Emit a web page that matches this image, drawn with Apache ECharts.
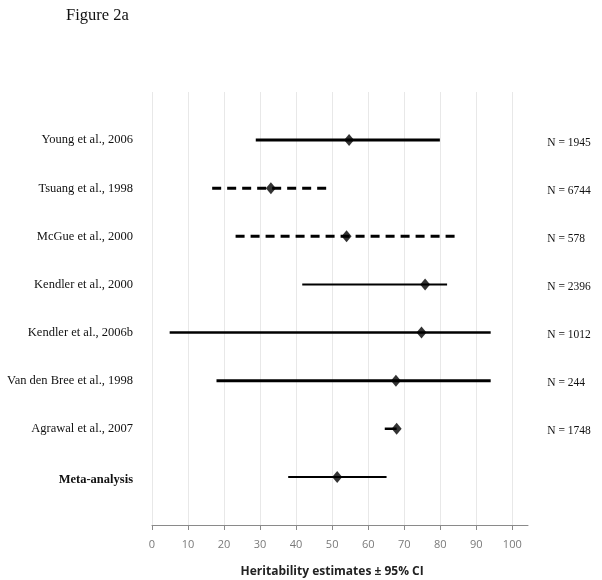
<!DOCTYPE html>
<html>
<head>
<meta charset="utf-8">
<script src="https://cdn.jsdelivr.net/npm/echarts@6/dist/echarts.min.js"></script>
<style>
html,body{margin:0;padding:0;background:#fff;}
#chart{width:602px;height:580px;}
</style>
</head>
<body>
<div id="chart"></div>
<script>
// ---- data ----
var studies = ['Young et al., 2006','Tsuang et al., 1998','McGue et al., 2000','Kendler et al., 2000','Kendler et al., 2006b','Van den Bree et al., 1998','Agrawal et al., 2007','Meta-analysis'];
var estimates = [54.7, 33.0, 54.0, 75.8, 74.8, 67.7, 67.9, 51.4];
var lowerCI   = [28.8, 16.7, 23.2, 41.7, 4.9, 17.9, 64.6, 37.8];
var upperCI   = [79.9, 49.4, 84.4, 81.9, 94.0, 94.0, 67.9, 65.1];
var sampleN   = ['N = 1945','N = 6744','N = 578','N = 2396','N = 1012','N = 244','N = 1748',''];
var xTicks    = [0,10,20,30,40,50,60,70,80,90,100];

// ---- styles (not data) ----
var lineWidths = [3, 3, 3, 2, 2.5, 3, 2.5, 2];
var dashed     = [false, true, true, false, false, false, false, false];

var nRows = studies.length;
function rowY(i){ return nRows - i; } // top study at highest y

var ciData = studies.map(function(s,i){ return [lowerCI[i], upperCI[i], rowY(i), i]; });
var ptData = studies.map(function(s,i){ return [estimates[i], rowY(i)]; });

var labelByY = {};
var nByY = {};
studies.forEach(function(s,i){ labelByY[rowY(i)] = s; nByY[rowY(i)] = sampleN[i]; });

var chart = echarts.init(document.getElementById('chart'), null, {renderer:'canvas'});
var gridTop = 92, gridBottom = 55, gridLeft = 152;

chart.setOption({
  animation: false,
  backgroundColor: '#ffffff',
  title: {
    text: 'Figure 2a', left: 61, top: 2,
    textStyle: {fontFamily: 'Liberation Serif', fontSize: 16.5, fontWeight: 'normal', color: '#111'}
  },
  grid: [
    {left: gridLeft, right: 602 - 512.3, top: gridTop, bottom: gridBottom, containLabel: false, outerBoundsMode: 'none'},
    {left: gridLeft, right: 602 - 528, top: gridTop, bottom: gridBottom, containLabel: false, outerBoundsMode: 'none'}
  ],
  xAxis: [
    {
      gridIndex: 0, type: 'value', min: xTicks[0], max: xTicks[xTicks.length-1], interval: 10,
      axisLine: {show: false},
      axisTick: {show: true, length: 5, lineStyle: {color: '#8a8a8a'}},
      splitLine: {show: true, lineStyle: {color: '#e8e8e8', width: 1}},
      axisLabel: {margin: 14, color: '#7a7a7a', fontFamily: 'Open Sans', fontSize: 11},
      name: 'Heritability estimates \u00b1 95% CI', nameLocation: 'middle', nameGap: 41,
      nameTextStyle: {fontFamily: 'Open Sans', fontSize: 12, fontWeight: 'bold', color: '#222'}
    },
    {
      gridIndex: 1, type: 'value', min: 0, max: 1,
      axisLine: {show: true, lineStyle: {color: '#8a8a8a', width: 1}},
      axisTick: {show: false}, axisLabel: {show: false}, splitLine: {show: false}
    }
  ],
  yAxis: [
    {
      gridIndex: 0, type: 'value', min: 0, max: nRows + 1, interval: 1,
      axisLine: {show: false}, axisTick: {show: false}, splitLine: {show: false},
      axisLabel: {
        margin: 19, color: '#111', fontFamily: 'Liberation Serif', fontSize: 12.5,
        formatter: function(v){
          var s = labelByY[v] || '';
          if (s === 'Meta-analysis') return '{b|' + s + '}';
          return s;
        },
        rich: {b: {fontWeight: 'bold', fontFamily: 'Liberation Serif', fontSize: 12.5, color: '#111', padding: [5,0,0,0]}}
      }
    },
    {
      gridIndex: 0, type: 'value', min: 0, max: nRows + 1, interval: 1, position: 'right',
      axisLine: {show: false}, axisTick: {show: false}, splitLine: {show: false},
      axisLabel: {
        margin: 35, color: '#111', fontFamily: 'Liberation Serif', fontSize: 11.5,
        formatter: function(v){ return nByY[v] ? '{n|' + nByY[v] + '}' : ''; },
        rich: {n: {fontFamily: 'Liberation Serif', fontSize: 11.5, color: '#111', padding: [5,0,0,0]}}
      }
    },
    {
      gridIndex: 1, type: 'value', min: 0, max: 1, show: false
    }
  ],
  series: [
    {
      type: 'custom', xAxisIndex: 0, yAxisIndex: 0,
      data: ciData,
      renderItem: function(params, api){
        var idx = api.value(3);
        var p1 = api.coord([api.value(0), api.value(2)]);
        var p2 = api.coord([api.value(1), api.value(2)]);
        return {
          type: 'line',
          shape: {x1: p1[0], y1: p1[1], x2: p2[0], y2: p2[1]},
          style: {stroke: '#000', lineWidth: lineWidths[idx], lineDash: dashed[idx] ? [9, 6] : null}
        };
      },
      z: 2
    },
    {
      type: 'scatter', xAxisIndex: 0, yAxisIndex: 0,
      data: ptData, symbol: 'diamond', symbolSize: [10, 12],
      itemStyle: {color: '#000'}, z: 3
    }
  ]
});
</script>
</body>
</html>
